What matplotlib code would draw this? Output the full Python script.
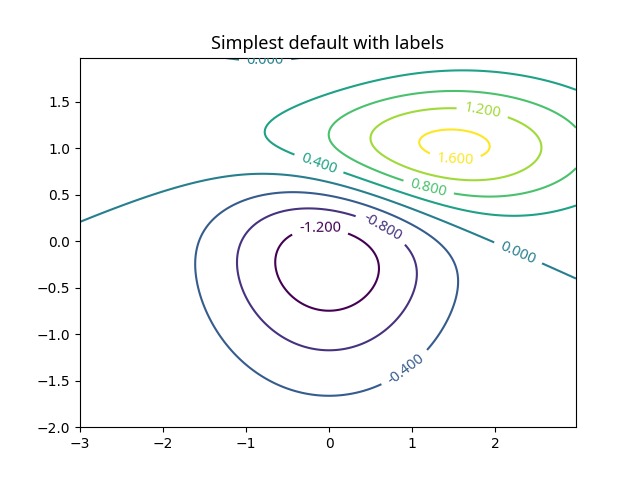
import numpy as np
import matplotlib
matplotlib.use("Agg")
import matplotlib.pyplot as plt

# grid extents and step
x_range = [-3.0, 3.0]
y_range = [-2.0, 2.0]
step = 0.025

# two gaussian bumps: (sigma_x, sigma_y, mu_x, mu_y, weight)
bump_neg = [1.0, 1.0, 0.0, 0.0, -10.0]
bump_pos = [1.5, 0.5, 1.0, 1.0, 10.0]

# contour levels
levels = [-1.2, -0.8, -0.4, 0.0, 0.4, 0.8, 1.2, 1.6]
levels_fmt = "%1.3f"

# approximate label anchor spots (layout)
label_spots = [(-0.77, 1.95), (1.85, 1.41), (1.52, 0.89), (-0.12, 0.84),
               (1.20, 0.58), (-0.11, 0.15), (0.64, 0.15), (2.28, -0.12),
               (0.92, -1.37)]

FONT = ["Noto Sans", "DejaVu Sans"]


def bivariate(X, Y, sx, sy, mx, my):
    z = (X - mx)**2 / sx**2 + (Y - my)**2 / sy**2
    return np.exp(-z / 2.0) / (2 * np.pi * sx * sy)


x = np.arange(x_range[0], x_range[1], step)
y = np.arange(y_range[0], y_range[1], step)
X, Y = np.meshgrid(x, y)
Z = (bump_neg[4] * bivariate(X, Y, *bump_neg[:4])
     + bump_pos[4] * bivariate(X, Y, *bump_pos[:4]))

fig, ax = plt.subplots(figsize=(6.4, 4.8), dpi=100)
CS = ax.contour(X, Y, Z, levels=levels, cmap="viridis")
labels = ax.clabel(CS, inline=True, fontsize=10.5, fmt=levels_fmt,
                   manual=label_spots)
for t in labels:
    t.set_fontfamily(FONT)
ax.set_title("Simplest default with labels", family=FONT, fontsize=13)
fig.savefig("out.png", dpi=100)
